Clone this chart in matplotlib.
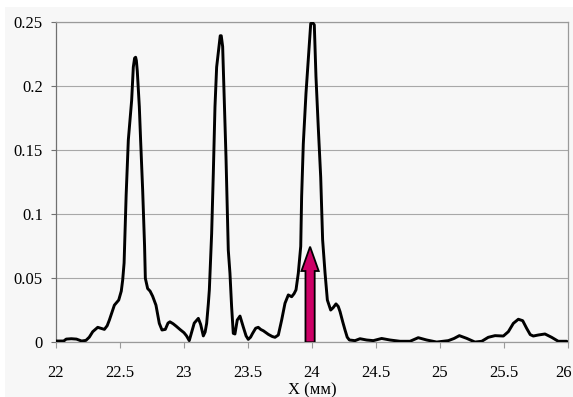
import matplotlib
matplotlib.use("Agg")
import matplotlib.pyplot as plt
from matplotlib.patches import FancyArrow, Rectangle
from matplotlib.transforms import ScaledTranslation

# Intensity profile along X (mm)
x_mm = [
    22.0, 22.06, 22.08, 22.12, 22.16, 22.2, 22.234, 22.26, 22.287, 22.326,
    22.35, 22.378, 22.40, 22.417, 22.456, 22.49, 22.51, 22.521, 22.532, 22.540,
    22.548, 22.565, 22.591, 22.604, 22.614, 22.622, 22.628, 22.635, 22.651, 22.661,
    22.677, 22.692, 22.698, 22.716, 22.735, 22.755, 22.781, 22.807, 22.828, 22.854,
    22.875, 22.89, 22.915, 22.9375, 22.969, 23.0, 23.02, 23.041, 23.06, 23.08,
    23.112, 23.13, 23.151, 23.165, 23.177, 23.19, 23.198, 23.208, 23.216, 23.229,
    23.242, 23.255, 23.273, 23.283, 23.291, 23.302, 23.3125, 23.328, 23.346, 23.359,
    23.372, 23.385, 23.398, 23.416, 23.4375, 23.463, 23.485, 23.502, 23.52, 23.536,
    23.56, 23.58, 23.60, 23.62, 23.659, 23.69, 23.711, 23.737, 23.763, 23.789,
    23.815, 23.841, 23.86, 23.875, 23.893, 23.912, 23.919, 23.932, 23.953, 23.971,
    23.99, 24.005, 24.018, 24.031, 24.049, 24.068, 24.083, 24.102, 24.12, 24.146,
    24.165, 24.1875, 24.205, 24.219, 24.24, 24.258, 24.275, 24.292, 24.336, 24.375,
    24.427, 24.479, 24.544, 24.609, 24.6875, 24.766, 24.83, 24.896, 24.974, 25.065,
    25.11, 25.151, 25.208, 25.273, 25.326, 25.377, 25.43, 25.495, 25.534, 25.573,
    25.612, 25.646, 25.677, 25.705, 25.729, 25.768, 25.82, 25.872, 25.924, 25.99,
]
intensity = [
    0.001, 0.001, 0.0025, 0.0028, 0.0025, 0.001, 0.0015, 0.004, 0.0083, 0.0117,
    0.011, 0.0101, 0.013, 0.0174, 0.029, 0.033, 0.040, 0.0487, 0.062, 0.090,
    0.115, 0.158, 0.189, 0.215, 0.222, 0.2227, 0.220, 0.212, 0.184, 0.158,
    0.119, 0.075, 0.050, 0.042, 0.040, 0.036, 0.029, 0.0148, 0.0096, 0.0101,
    0.015, 0.016, 0.0145, 0.0127, 0.0100, 0.0075, 0.005, 0.0013, 0.008, 0.015,
    0.0187, 0.014, 0.005, 0.008, 0.0148, 0.030, 0.041, 0.065, 0.085, 0.132,
    0.184, 0.215, 0.231, 0.2395, 0.2395, 0.231, 0.197, 0.145, 0.072, 0.054,
    0.0278, 0.007, 0.0065, 0.0174, 0.0205, 0.012, 0.005, 0.0023, 0.004, 0.007,
    0.011, 0.0117, 0.010, 0.009, 0.0062, 0.0045, 0.0039, 0.0057, 0.0174, 0.0305,
    0.037, 0.0356, 0.038, 0.041, 0.054, 0.075, 0.1138, 0.155, 0.1945, 0.2205,
    0.249, 0.2497, 0.248, 0.2075, 0.168, 0.129, 0.080, 0.054, 0.033, 0.0252,
    0.027, 0.030, 0.028, 0.024, 0.016, 0.0096, 0.004, 0.0018, 0.0013, 0.0028,
    0.0018, 0.0013, 0.003, 0.0018, 0.0008, 0.0008, 0.0036, 0.0018, 0.0002, 0.0013,
    0.003, 0.0052, 0.0031, 0.0002, 0.0008, 0.0039, 0.0052, 0.0049, 0.0083, 0.0148,
    0.018, 0.0169, 0.0109, 0.006, 0.0049, 0.0057, 0.0065, 0.0039, 0.0008, 0.0008,
]

x_ticks = [22, 22.5, 23, 23.5, 24, 24.5, 25, 25.5, 26]
x_tick_labels = ["22", "22.5", "23", "23.5", "24", "24.5", "25", "25.5", "26"]
y_ticks = [0, 0.05, 0.1, 0.15, 0.2, 0.25]
y_tick_labels = ["0", "0.05", "0.1", "0.15", "0.2", "0.25"]

# Marker arrow: position and height
arrow_x = 23.985
arrow_top = 0.0747

bg = "#f7f7f7"
plt.rcParams["font.family"] = ["Liberation Serif", "DejaVu Serif"]

fig = plt.figure(figsize=(5.73, 3.97), dpi=100)
fig.patch.set_facecolor("white")
fig.add_artist(Rectangle((5 / 573, 0), 1, 1 - 7 / 397, transform=fig.transFigure,
                         facecolor=bg, edgecolor="none", zorder=-10))

ax = fig.add_axes([56 / 573, 54.7 / 397, 512 / 573, 320 / 397])
ax.set_facecolor(bg)

ax.plot(x_mm, intensity, color="black", lw=2.1, solid_joinstyle="round",
        solid_capstyle="round", zorder=3)

arrow = FancyArrow(arrow_x, 0.0, 0.0, arrow_top, width=0.072, head_width=0.135,
                   head_length=0.019, length_includes_head=True,
                   facecolor="#cc0066", edgecolor="black", lw=1.3, zorder=4)
ax.add_patch(arrow)

ax.set_xlim(22, 26)
ax.set_ylim(0, 0.25)
ax.set_xticks(x_ticks)
ax.set_xticklabels(x_tick_labels)
ax.set_yticks(y_ticks)
ax.set_yticklabels(y_tick_labels)

ax.grid(axis="y", color="#a8a8a8", lw=0.8)
ax.set_axisbelow(True)
for side in ["left", "right", "top", "bottom"]:
    ax.spines[side].set_color("#9a9a9a")
    ax.spines[side].set_linewidth(0.9)
ax.spines["left"].set_color("#707070")

ax.tick_params(axis="y", direction="out", length=3.5, width=0.8, color="#707070",
               pad=6, labelsize=12)
ax.tick_params(axis="x", direction="out", length=4, width=0.8, color="#9a9a9a",
               pad=12, labelsize=12)

# keep the last tick label inside the figure edge
last = ax.get_xticklabels()[-1]
last.set_transform(last.get_transform() + ScaledTranslation(-4 / 100, 0, fig.dpi_scale_trans))

ax.set_xlabel("X (мм)", fontsize=12, labelpad=0)
ax.xaxis.set_label_coords(0.5, -0.124)

fig.savefig("out.png", dpi=100, facecolor=fig.get_facecolor())
